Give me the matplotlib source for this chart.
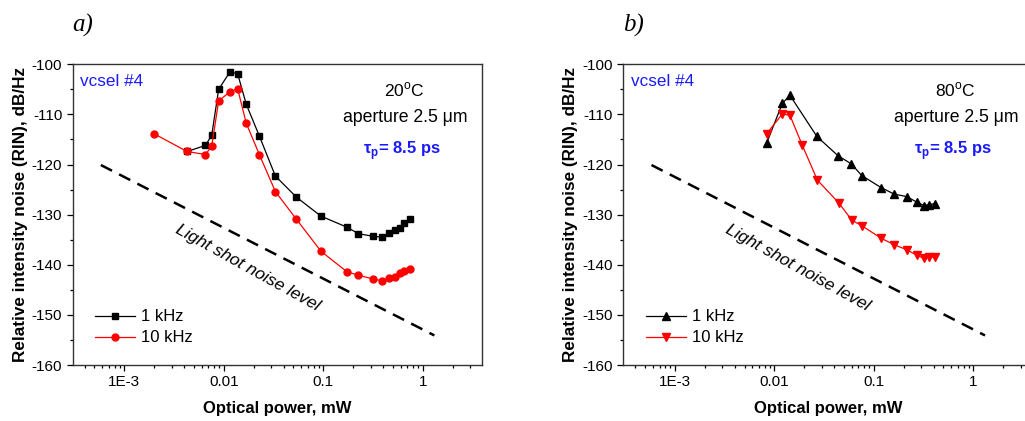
import numpy as np
import matplotlib
matplotlib.use('Agg')
import matplotlib.pyplot as plt
from matplotlib.ticker import FixedLocator, FixedFormatter, MultipleLocator

plt.rcParams['font.family'] = ['Liberation Sans', 'DejaVu Sans']
plt.rcParams['mathtext.fontset'] = 'custom'
plt.rcParams['mathtext.rm'] = 'Liberation Sans'
plt.rcParams['mathtext.bf'] = 'Liberation Sans:bold'
plt.rcParams['axes.unicode_minus'] = False

# panel a) 20 C
p_a_1k = [0.00427, 0.00652, 0.00755, 0.00887, 0.01153, 0.01377, 0.01683, 0.02275, 0.0330, 0.0536,
          0.0948, 0.173, 0.226, 0.313, 0.389, 0.459, 0.530, 0.594, 0.654, 0.743]
rin_a_1k = [-117.4, -116.2, -114.2, -105.0, -101.5, -101.9, -108.0, -114.3, -122.3, -126.5,
            -130.3, -132.5, -133.8, -134.3, -134.5, -133.7, -133.0, -132.6, -131.6, -130.9]
p_a_10k = [0.002005, 0.00427, 0.00652, 0.00755, 0.00887, 0.01153, 0.01377, 0.01683, 0.02275, 0.0330,
           0.0536, 0.0948, 0.173, 0.226, 0.313, 0.389, 0.459, 0.530, 0.594, 0.654, 0.743]
rin_a_10k = [-113.9, -117.4, -118.0, -116.4, -107.3, -105.5, -104.9, -111.8, -118.0, -125.4,
             -130.9, -137.3, -141.4, -142.1, -142.8, -143.2, -142.7, -142.4, -141.7, -141.2, -140.9]

# panel b) 80 C
p_b_1k = [0.00832, 0.0120, 0.01432, 0.0267, 0.0433, 0.0595, 0.0755, 0.118, 0.160, 0.214,
          0.270, 0.318, 0.360, 0.407]
rin_b_1k = [-115.8, -107.8, -106.2, -114.4, -118.2, -119.9, -122.2, -124.6, -125.9, -126.4,
            -127.5, -128.2, -128.0, -127.8]
p_b_10k = [0.00832, 0.0120, 0.01432, 0.0191, 0.0270, 0.0445, 0.0600, 0.0755, 0.118, 0.160,
           0.214, 0.270, 0.318, 0.362, 0.408]
rin_b_10k = [-113.9, -109.9, -110.2, -116.2, -123.1, -127.7, -131.1, -132.2, -134.7, -136.0,
             -137.0, -138.1, -138.7, -138.5, -138.4]

# light shot noise level (end points)
shot_p = [5.8e-4, 1.31]
shot_rin = [-120.1, -154.1]

xtick_vals = [1e-3, 1e-2, 1e-1, 1]
xtick_labels = ['1E-3', '0.01', '0.1', '1']

fig = plt.figure(figsize=(10.25, 4.21), dpi=100)
ax_a = fig.add_axes([0.0709, 0.1330, 0.3996, 0.7143])
ax_b = fig.add_axes([0.6081, 0.1330, 0.3996, 0.7143])

blue = '#1a1aff'

def setup(ax, temp, label):
    ax.set_xscale('log')
    ax.set_xlim(3.02e-4, 3.97)
    ax.set_ylim(-160, -100)
    ax.xaxis.set_major_locator(FixedLocator(xtick_vals))
    ax.xaxis.set_major_formatter(FixedFormatter(xtick_labels))
    ax.yaxis.set_major_locator(MultipleLocator(10))
    ax.yaxis.set_minor_locator(MultipleLocator(5))
    ax.tick_params(which='both', direction='out', top=False, right=False, labelsize=11, width=0.9)
    ax.tick_params(which='major', length=4)
    ax.tick_params(which='minor', length=2.5)
    for s in ax.spines.values():
        s.set_linewidth(1.0)
        s.set_color('#333333')
    ax.set_xlabel('Optical power, mW', fontsize=12, fontweight='bold', labelpad=8)
    ax.set_ylabel('Relative intensity noise (RIN), dB/Hz', fontsize=12.3, fontweight='bold', labelpad=3)
    ax.plot(shot_p, shot_rin, color='black', lw=1.8, dashes=(5, 3.2))
    ax.text(0.018, 0.944, 'vcsel #4', transform=ax.transAxes, color=blue, fontsize=12.3,
            ha='left', va='center')
    ax.text(0.81, 0.916, temp + r'$^{\rm o}$C', transform=ax.transAxes, fontsize=12.5,
            ha='center', va='center')
    ax.text(0.812, 0.822, 'aperture 2.5 μm', transform=ax.transAxes, fontsize=12.7,
            ha='center', va='center')
    ax.text(0.805, 0.712, r'τ$_\mathbf{p}$= 8.5 ps', transform=ax.transAxes, fontsize=12,
            fontweight='bold', color=blue, ha='center', va='center')
    ax.text(0.0172, -140.7, 'Light shot noise level', fontsize=12.5, style='italic',
            rotation=-29, ha='center', va='center', rotation_mode='anchor')
    ax.text(0.0, 1.13, label, transform=ax.transAxes, fontsize=18, style='italic',
            family='Liberation Serif', ha='left', va='center')

setup(ax_a, '20', 'a)')
ax_a.plot(p_a_1k, rin_a_1k, color='black', lw=0.9, marker='s', ms=4.5, label='1 kHz')
ax_a.plot(p_a_10k, rin_a_10k, color='red', lw=0.9, marker='o', ms=5, label='10 kHz')

setup(ax_b, '80', 'b)')
ax_b.plot(p_b_1k, rin_b_1k, color='black', lw=0.9, marker='^', ms=5.5, label='1 kHz')
ax_b.plot(p_b_10k, rin_b_10k, color='red', lw=0.9, marker='v', ms=5.5, label='10 kHz')

for ax in (ax_a, ax_b):
    ax.legend(loc='lower left', bbox_to_anchor=(0.055, 0.065), frameon=False, fontsize=12,
              handlelength=2.4, handletextpad=0.35, labelspacing=0.36, borderpad=0,
              borderaxespad=0)

fig.savefig('out.png', dpi=100)
